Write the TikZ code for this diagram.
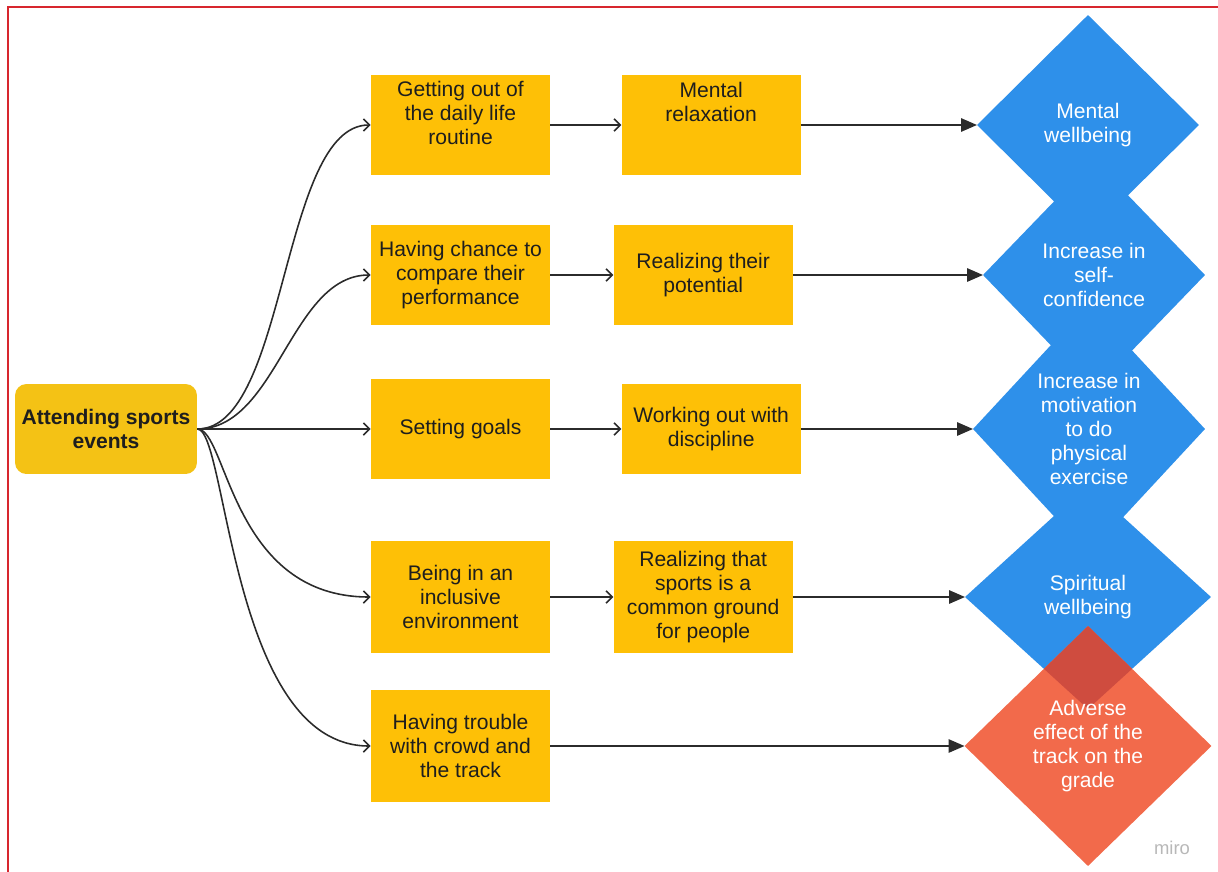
\documentclass[tikz,border=0pt]{standalone}
\usepackage{fontspec}
\setmainfont{Liberation Sans}
\usepackage{xcolor}
\usepackage{tikz}
\usetikzlibrary{arrows.meta,positioning,shapes.geometric}
\definecolor{ink}{HTML}{1E1E1E}
\definecolor{arrink}{HTML}{2B2B2B}
\definecolor{boxyellow}{HTML}{FEC006}
\definecolor{startyellow}{HTML}{F4C215}
\definecolor{goalblue}{HTML}{2E90EA}
\definecolor{riskred}{HTML}{F26A4B}
\definecolor{overlapred}{HTML}{CF4C3F}
\definecolor{framered}{HTML}{D7262E}
\definecolor{markgray}{HTML}{B8B8B8}
\newcommand{\boxfont}{\fontsize{12}{13.6}\selectfont}
% pushes the text of a box up by half of #1
\newcommand{\liftby}[1]{\rule[-#1]{0pt}{#1}}
\tikzset{
  stepbox/.style={rectangle,fill=boxyellow,text=ink,align=center,font=\boxfont,
    minimum width=3.58cm,inner sep=3pt},
  startbox/.style={rectangle,rounded corners=6.5pt,fill=startyellow,text=ink,align=center,
    font=\boxfont\bfseries,minimum width=3.64cm,minimum height=1.8cm,inner sep=2pt},
  goalbox/.style={diamond,fill=goalblue,text=white,align=center,font=\boxfont,
    inner sep=0pt,outer sep=0pt},
  riskbox/.style={goalbox,fill=riskred},
  openarr/.style={-{Straight Barb[length=3.5pt,width=7pt]},line width=0.9pt,color=arrink},
  fillarr/.style={-{Triangle[length=9pt,width=7.5pt]},line width=1.1pt,color=arrink},
}

\begin{document}
\begin{tikzpicture}[x=0.02cm, y=-0.02cm]
  \useasboundingbox (0,0) rectangle (1218,872);
  \draw[framered, line width=1.5pt] (8,872) -- (8,7) -- (1218,7);

  \node[startbox] (start) at (106,429) {Attending sports\\events};

  \node[stepbox, minimum height=2cm] (out) at (460.5,125) {Getting out of\\the daily life\\routine\liftby{0.48cm}};
  \node[stepbox, minimum height=2cm] (compare) at (460.5,275) {Having chance to\\compare their\\performance};
  \node[stepbox, minimum height=2.02cm] (goals) at (460.5,429) {Setting goals};
  \node[stepbox, minimum height=2.24cm] (inclusive) at (460.5,597) {Being in an\\inclusive\\environment};
  \node[stepbox, minimum height=2.24cm] (crowd) at (460.5,746) {Having trouble\\with crowd and\\the track};

  \node[stepbox, minimum height=2cm, right=1.42cm of out] (relax) {Mental\\relaxation\liftby{0.92cm}};
  \node[stepbox, minimum height=2cm, right=1.26cm of compare] (potential) {Realizing their\\potential};
  \node[stepbox, minimum height=1.8cm, right=1.42cm of goals] (discipline) {Working out with\\discipline};
  \node[stepbox, minimum height=2.24cm, right=1.26cm of inclusive] (ground) {Realizing that\\sports is a\\common ground\\for people};

  \node[goalbox, minimum width=4.44cm, minimum height=4.4cm] (wellbeing) at (1088,125) {Mental\\wellbeing};
  \node[goalbox, minimum width=4.44cm, minimum height=4.6cm] (confidence) at (1094,275) {Increase in\\self-\\confidence};
  \node[goalbox, minimum width=4.64cm, minimum height=5cm] (motivation) at (1089,429) {Increase in\\motivation\\to do\\physical\\exercise};
  \node[goalbox, minimum width=4.92cm, minimum height=4.48cm] (spiritual) at (1088,597) {Spiritual\\wellbeing};
  \node[riskbox, minimum width=4.94cm, minimum height=4.8cm,
    path picture={\fill[overlapred] (spiritual.north) -- (spiritual.east) -- (spiritual.south) -- (spiritual.west) -- cycle;}]
    (adverse) at (1088,746) {Adverse\\effect of the\\track on the\\grade};

  \node[text=markgray, font=\fontsize{10.5}{12}\selectfont] (miro) at (1172,848) {miro};

  \draw[openarr] (start.east) .. controls +(90,0) and +(-90,0) .. (out.west);
  \draw[openarr] (start.east) .. controls +(80,0) and +(-80,0) .. (compare.west);
  \draw[openarr] (start.east) -- (goals.west);
  \draw[openarr] (start.east) .. controls +(30,0) and +(-140,0) .. (inclusive.west);
  \draw[openarr] (start.east) .. controls +(30,0) and +(-140,0) .. (crowd.west);

  \draw[openarr] (out) -- (relax);
  \draw[openarr] (compare) -- (potential);
  \draw[openarr] (goals) -- (discipline);
  \draw[openarr] (inclusive) -- (ground);

  \draw[fillarr] (relax) -- (wellbeing);
  \draw[fillarr] (potential) -- (confidence);
  \draw[fillarr] (discipline) -- (motivation);
  \draw[fillarr] (ground) -- (spiritual);
  \draw[fillarr] (crowd) -- (adverse);
\end{tikzpicture}
\end{document}
